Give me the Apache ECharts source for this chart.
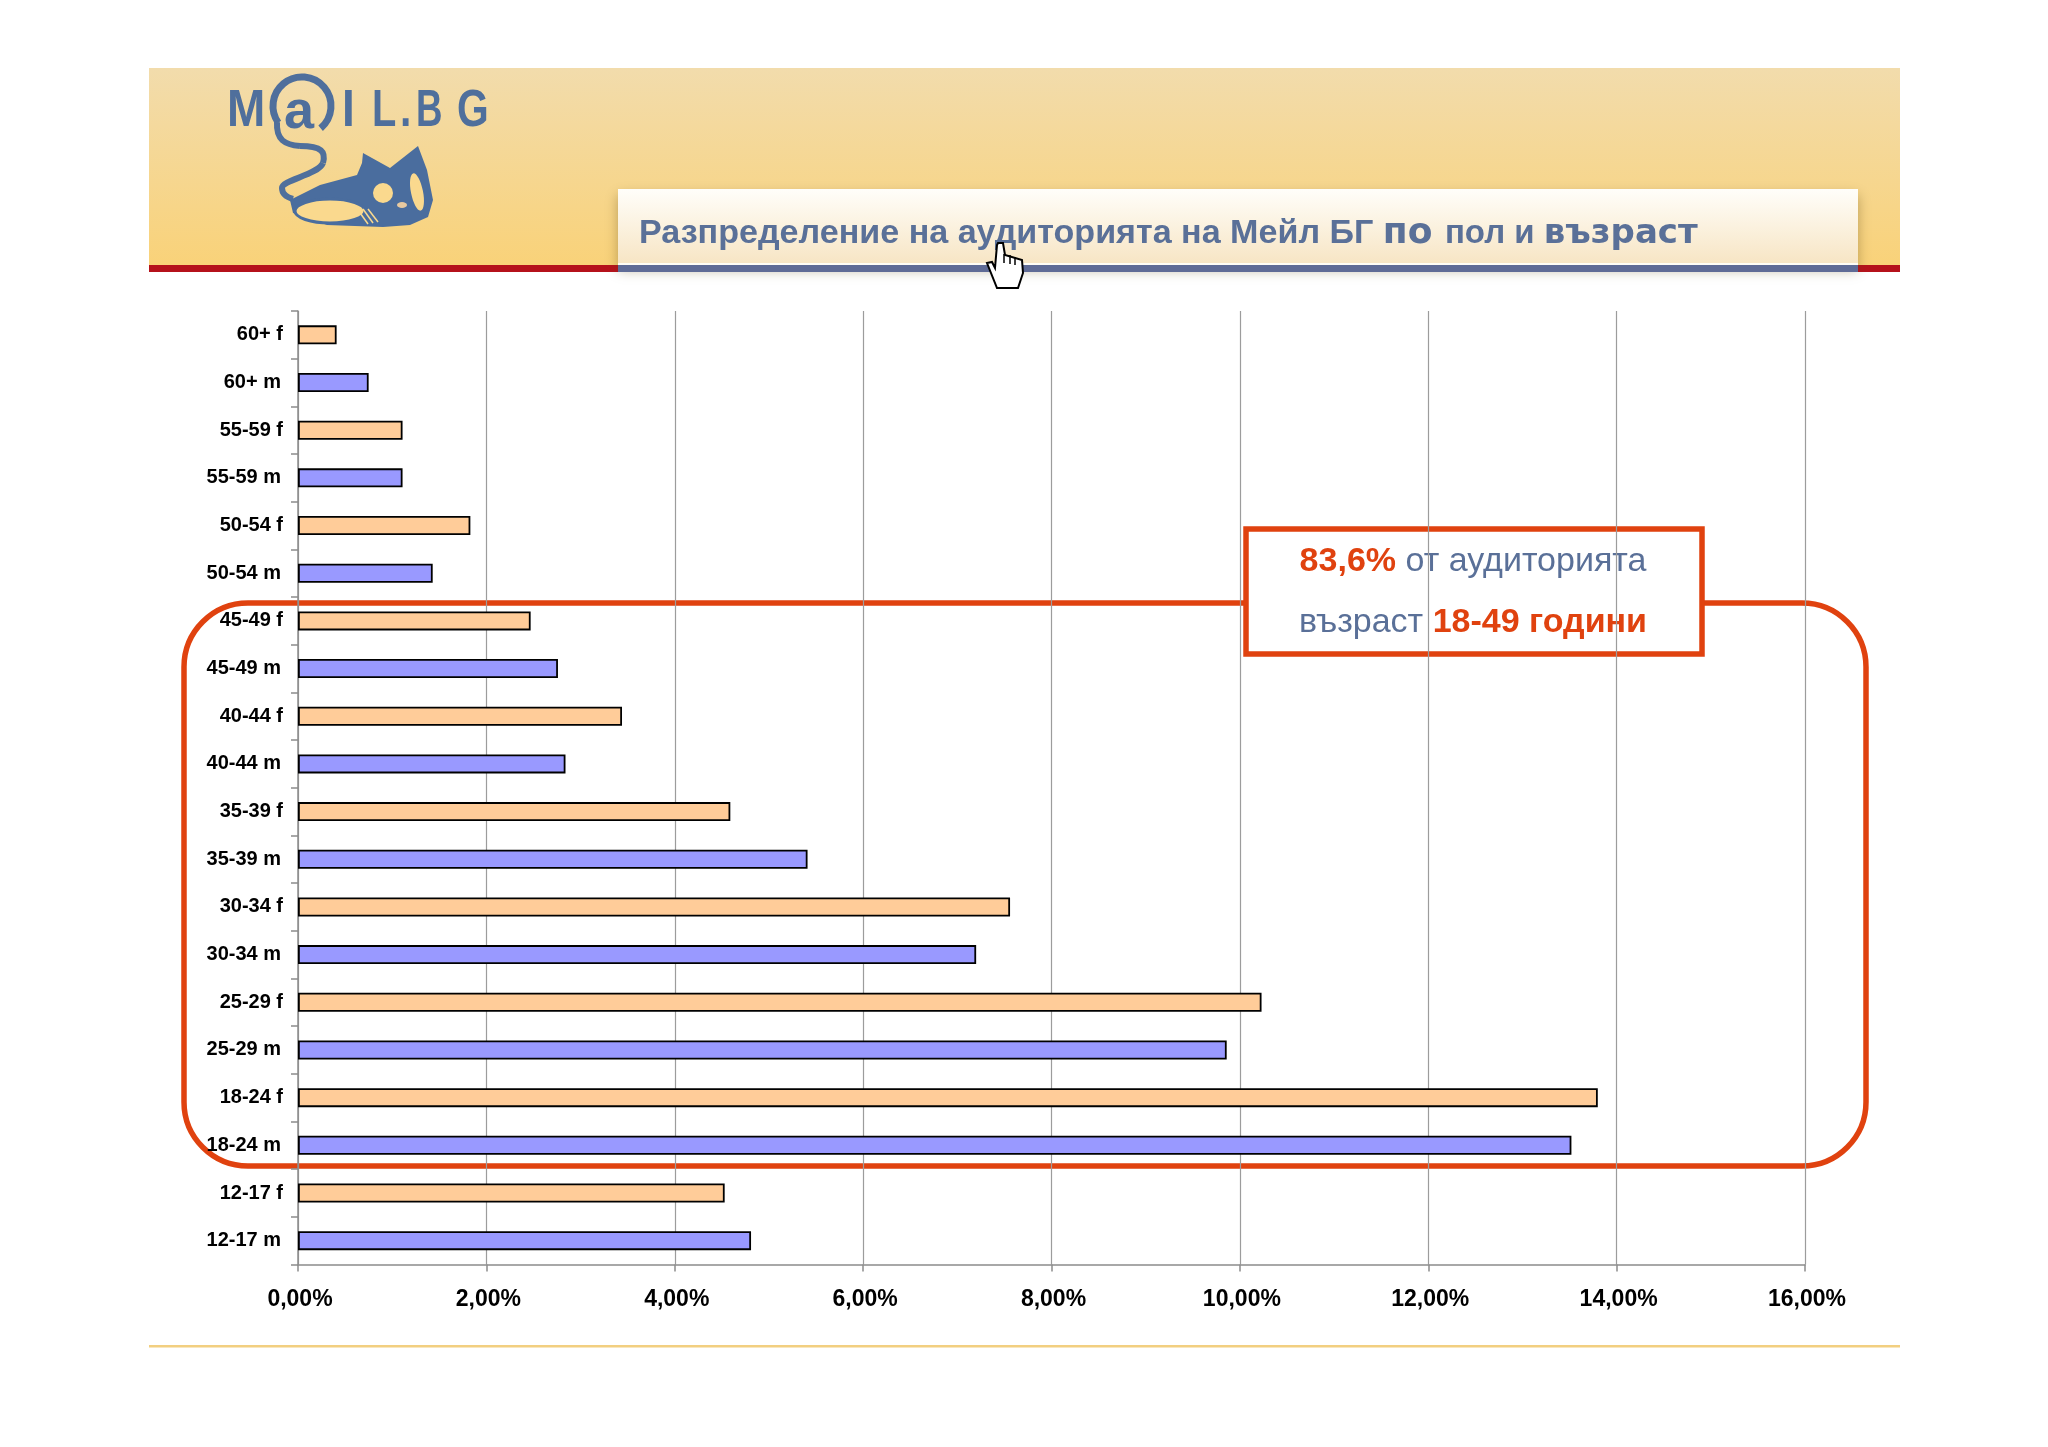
<!DOCTYPE html>
<html><head><meta charset="utf-8">
<script src="https://cdn.jsdelivr.net/npm/echarts@6/dist/echarts.min.js"></script>
<style>html,body{margin:0;padding:0;background:#fff}#c{width:2048px;height:1447px}</style>
</head><body><div id="c"></div>
<script>
const categories = ['12-17 m','12-17 f','18-24 m','18-24 f','25-29 m','25-29 f','30-34 m','30-34 f','35-39 m','35-39 f','40-44 m','40-44 f','45-49 m','45-49 f','50-54 m','50-54 f','55-59 m','55-59 f','60+ m','60+ f'];
const shares = [4.81,4.53,13.52,13.80,9.86,10.23,7.20,7.56,5.41,4.59,2.84,3.44,2.76,2.47,1.43,1.83,1.11,1.11,0.75,0.41];
const xMax = 16, xStep = 2;
const maleColor = '#9999ff', femaleColor = '#ffcc99';
const accent = '#e0420f', slate = '#5a7098', logoBlue = '#4f6f9c', logoLight = '#fad98e';
const font = '"Liberation Sans", Arial, sans-serif';

const chart = echarts.init(document.getElementById('c'), null, {renderer:'canvas', width:2048, height:1447});
const G = echarts.graphic;
const logoFont = 'bold 51px '+font;
const letter = (t,x,sx) => ({type:'text', x, y:112, scaleX:sx, style:{x:0,y:0,verticalAlign:'middle',text:t,font:logoFont,fill:logoBlue}});
const curve = (a,b,c,d,e,f,g,h) => ({type:'bezierCurve', shape:{x1:a,y1:b,cpx1:c,cpy1:d,cpx2:e,cpy2:f,x2:g,y2:h}, style:{fill:'none',stroke:logoBlue,lineWidth:6}});
const stroke = (a,b,c,d,col,w) => ({type:'line', shape:{x1:a,y1:b,x2:c,y2:d}, style:{stroke:col,lineWidth:w}});
const elements = [
  {type:'rect', shape:{x:149,y:68,width:1751,height:197}, style:{fill:new G.LinearGradient(0,0,0,1,[{offset:0,color:'#f2dcac'},{offset:1,color:'#f9d279'}])}},
  {type:'rect', shape:{x:149,y:265,width:1751,height:7}, style:{fill:'#b5111b'}},
  {type:'rect', shape:{x:618,y:189,width:1240,height:75}, style:{fill:new G.LinearGradient(0,0,0,1,[{offset:0,color:'#fffefa'},{offset:1,color:'#f7e5c4'}]), shadowBlur:12, shadowColor:'rgba(90,70,20,0.4)', shadowOffsetY:6}},
  {type:'rect', shape:{x:618,y:263,width:1240,height:2}, style:{fill:'#fffdf6'}},
  {type:'rect', shape:{x:618,y:265,width:1240,height:7}, style:{fill:'#5f6b96'}},
  {type:'text', style:{x:639,y:234,verticalAlign:'middle',text:'{a|Разпределение на аудиторията на Мейл БГ }{b|по }{c|пол и }{b2|възраст}',
    rich:{a:{font:'bold 34.1px '+font,fill:slate},b:{font:'bold 36px "DejaVu Sans"',fill:slate},c:{font:'bold 33px '+font,fill:slate},b2:{font:'bold 34px "DejaVu Sans"',fill:slate}}}},
  // logo
  letter('M',227,0.9),
  {type:'arc', shape:{cx:302,cy:106,r:29,startAngle:50*Math.PI/180,endAngle:-215*Math.PI/180,clockwise:false}, style:{fill:'none',stroke:logoBlue,lineWidth:7}},
  {type:'text', x:284, y:113, style:{x:0,y:0,verticalAlign:'middle',text:'a',font:'bold 54px '+font,fill:logoBlue}},
  letter('I',342,0.9), letter('L',372,0.78), letter('.',400,0.8), letter('B',416,0.72), letter('G',457,0.8),
  curve(277,122,276,140,285,145,300,146), curve(300,146,322,146,326,152,323,163), curve(323,163,318,175,282,180,282,188), curve(282,188,282,194,286,197,293,199),
  {type:'polygon', shape:{points:[[363,153],[390,168],[418,146],[427,170],[433,200],[428,217],[410,225],[383,227],[327,225],[293,213],[290,200],[320,185],[357,175],[362,163]]}, style:{fill:'#4a6d9e'}},
  {type:'ellipse', shape:{cx:330,cy:211,rx:35,ry:12}, style:{fill:logoLight,stroke:'#4a6d9e',lineWidth:3}},
  {type:'circle', shape:{cx:383,cy:193,r:10}, style:{fill:logoLight}},
  {type:'ellipse', rotation:0.2, originX:417, originY:192, shape:{cx:417,cy:192,rx:6,ry:19}, style:{fill:logoLight}},
  {type:'ellipse', shape:{cx:402,cy:205,rx:5,ry:3}, style:{fill:'#e8c9a0'}},
  stroke(358,210,368,224,logoLight,1.5), stroke(363,209,373,223,logoLight,1.5), stroke(368,209,378,222,logoLight,1.5),
  // cursor
  {type:'polygon', shape:{points:[[998,243],[1003,243],[1005,255],[1022,260],[1023,273],[1018,288],[997,288],[987,263],[992,262],[995,268],[997,245]]}, style:{fill:'#fff',stroke:'#000',lineWidth:2}},
  stroke(1010,255,1010,264,'#000',1.5), stroke(1015,257,1015,265,'#000',1.5), stroke(1004,254,1004,263,'#000',1.5),
  // highlight
  {type:'rect', shape:{x:184,y:603,width:1682,height:563,r:64}, style:{fill:'none',stroke:accent,lineWidth:5.5}},
  {type:'rect', shape:{x:1246,y:529,width:456,height:125}, style:{fill:'#fff',stroke:accent,lineWidth:5.5}},
  {type:'text', style:{x:1473,y:562,align:'center',verticalAlign:'middle',text:'{r|83,6% }{s|от аудиторията}',rich:{r:{font:'bold 34px '+font,fill:accent},s:{font:'34px '+font,fill:slate}}}},
  {type:'text', style:{x:1473,y:623,align:'center',verticalAlign:'middle',text:'{s|възраст }{r|18-49 години}',rich:{r:{font:'bold 34px '+font,fill:accent},s:{font:'34px '+font,fill:slate}}}},
  // footer
  {type:'rect', shape:{x:149,y:1345,width:1751,height:2.5}, style:{fill:'#f2cf80'}}
];
chart.setOption({
  animation:false,
  backgroundColor:'#fff',
  grid:{left:298,right:243,top:311,bottom:182.5,containLabel:false},
  xAxis:{type:'value',min:0,max:xMax,interval:xStep,
    axisLine:{show:true,lineStyle:{color:'#8c8c8c',width:1.5}},
    axisTick:{show:true,length:7,lineStyle:{color:'#8c8c8c',width:1.5}},
    splitLine:{show:true,lineStyle:{color:'#9c9c9c',width:1.2}},
    axisLabel:{margin:24,padding:[0,0,0,4],color:'#000',fontFamily:font,fontWeight:'bold',fontSize:23,formatter:v=>v.toFixed(2).replace('.',',')+'%'}},
  yAxis:{type:'category',data:categories,
    axisLine:{show:true,onZero:false,lineStyle:{color:'#8c8c8c',width:1.5}},
    axisTick:{show:true,length:7,lineStyle:{color:'#8c8c8c',width:1.5}},
    splitLine:{show:false},
    axisLabel:{margin:15,color:'#000',fontFamily:font,fontWeight:'bold',fontSize:20,
      formatter:v=>v.endsWith('m')?'{m|'+v+'}':'{f|'+v+'}',
      rich:{m:{padding:[0,2,0,0],fontFamily:font,fontWeight:'bold',fontSize:20,color:'#000'},f:{fontFamily:font,fontWeight:'bold',fontSize:20,color:'#000'}}}},
  series:[{type:'bar',barWidth:19,
    data:shares.map((v,i)=>({value:v,itemStyle:{color:categories[i].endsWith('f')?femaleColor:maleColor,borderColor:'#000',borderWidth:1.8}}))}],
  graphic:{z:100,elements}
});
</script></body></html>
